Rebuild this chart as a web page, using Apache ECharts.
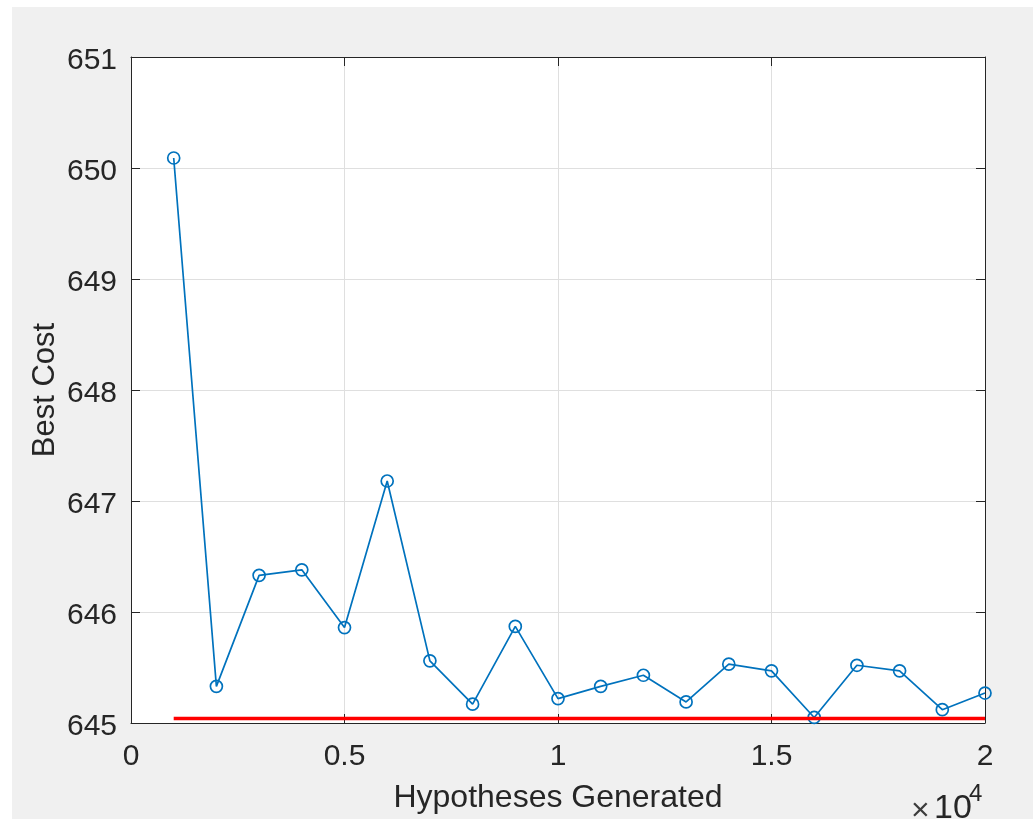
<!DOCTYPE html>
<html>
<head>
<meta charset="utf-8">
<style>
  html, body { margin: 0; padding: 0; background: #ffffff; }
  #backdrop { position: absolute; left: 12px; top: 7px; width: 1021px; height: 812px; background: #f0f0f0; }
  #chart { position: absolute; left: 0; top: 0; width: 1033px; height: 819px; }
</style>
<script src="https://cdn.jsdelivr.net/npm/echarts@6/dist/echarts.min.js"></script>
</head>
<body>
<div id="backdrop"></div>
<div id="chart"></div>
<script>
// Number of hypotheses generated at each checkpoint
const hypotheses = [1000, 2000, 3000, 4000, 5000, 6000, 7000, 8000, 9000, 10000,
                    11000, 12000, 13000, 14000, 15000, 16000, 17000, 18000, 19000, 20000];
// Best cost found so far at each checkpoint
const bestCost = [650.09, 645.33, 646.33, 646.38, 645.86, 647.18, 645.56, 645.17, 645.87, 645.22,
                  645.33, 645.43, 645.19, 645.53, 645.47, 645.05, 645.52, 645.47, 645.12, 645.27];
// Reference (optimal) cost level
const optimalCost = 645.04;
const optimalSpan = [1000, 20000];

const xTicks = [0, 5000, 10000, 15000, 20000];
const yTicks = [645, 646, 647, 648, 649, 650, 651];

const FONT = '"Liberation Sans", Arial, Helvetica, sans-serif';
const INK = '#262626';

const chart = echarts.init(document.getElementById('chart'), null, { renderer: 'canvas' });

const baseX = {
  type: 'value', min: xTicks[0], max: xTicks[xTicks.length - 1], interval: xTicks[1] - xTicks[0],
  axisLine: { show: true, onZero: false, lineStyle: { color: INK, width: 1 } },
  axisTick: { show: true, inside: true, length: 9, lineStyle: { color: INK, width: 1 } }
};
const baseY = {
  type: 'value', min: yTicks[0], max: yTicks[yTicks.length - 1], interval: yTicks[1] - yTicks[0],
  axisLine: { show: true, onZero: false, lineStyle: { color: INK, width: 1 } },
  axisTick: { show: true, inside: true, length: 9, lineStyle: { color: INK, width: 1 } }
};

chart.setOption({
  backgroundColor: 'transparent',
  animation: false,
  grid: {
    left: 131, right: 48, top: 57, bottom: 96,
    show: true, backgroundColor: '#ffffff', borderWidth: 0
  },
  xAxis: [
    Object.assign({}, baseX, {
      position: 'bottom',
      name: 'Hypotheses Generated', nameLocation: 'middle', nameGap: 59, nameMoveOverlap: false,
      nameTextStyle: { color: INK, fontFamily: FONT, fontSize: 32 },
      axisLabel: {
        color: INK, fontFamily: FONT, fontSize: 30, margin: 19,
        formatter: v => String(v / 10000)
      },
      splitLine: { show: true, lineStyle: { color: '#dfdfdf', width: 1 } }
    }),
    Object.assign({}, baseX, {
      position: 'top',
      axisLabel: { show: false },
      splitLine: { show: false }
    })
  ],
  yAxis: [
    Object.assign({}, baseY, {
      position: 'left',
      name: 'Best Cost', nameLocation: 'middle', nameGap: 70, nameRotate: 90, nameMoveOverlap: false,
      nameTextStyle: { color: INK, fontFamily: FONT, fontSize: 31 },
      axisLabel: {
        margin: 14,
        formatter: v => '{t|' + v + '}',
        rich: { t: { color: INK, fontFamily: FONT, fontSize: 30, padding: [8, 0, 0, 0] } }
      },
      splitLine: { show: true, lineStyle: { color: '#dfdfdf', width: 1 } }
    }),
    Object.assign({}, baseY, {
      position: 'right',
      axisLabel: { show: false },
      splitLine: { show: false }
    })
  ],
  graphic: [
    {
      type: 'text', left: 911, top: 795, z: 10,
      style: { text: '×', font: '32px ' + FONT, fill: '#3c3c3c' }
    },
    {
      type: 'text', left: 934, top: 792, z: 10,
      style: { text: '10', font: '34px ' + FONT, fill: INK }
    },
    {
      type: 'text', left: 969, top: 782, z: 10,
      style: { text: '4', font: '24px ' + FONT, fill: INK }
    }
  ],
  series: [
    {
      type: 'line',
      xAxisIndex: 0, yAxisIndex: 0,
      data: hypotheses.map((h, i) => [h, bestCost[i]]),
      lineStyle: { color: '#0072BD', width: 1.7 },
      symbol: 'circle', symbolSize: 12,
      itemStyle: { color: 'transparent', borderColor: '#0072BD', borderWidth: 1.7 },
      z: 3
    },
    {
      type: 'line',
      xAxisIndex: 0, yAxisIndex: 0,
      data: optimalSpan.map(h => [h, optimalCost]),
      lineStyle: { color: '#ff0000', width: 3.5 },
      symbol: 'none',
      z: 4
    }
  ]
});
</script>
</body>
</html>
